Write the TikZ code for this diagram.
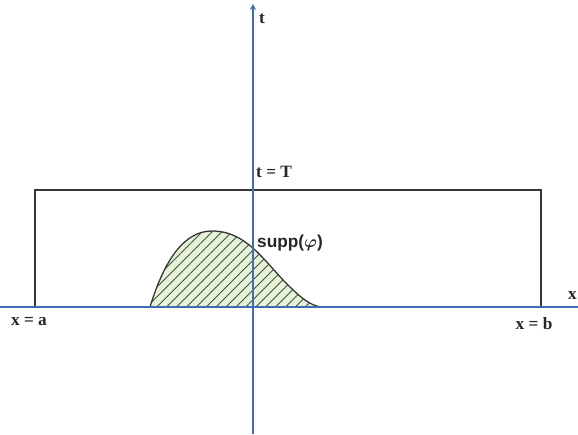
\documentclass[tikz,border=0pt]{standalone}
\usepackage{amsmath,amssymb}
\usepackage{xcolor}
\usepackage{fontspec}
\setmainfont{Liberation Serif}
\setsansfont{Liberation Sans}
\usepackage{tikz}
\usetikzlibrary{arrows.meta,patterns.meta}
\definecolor{axisblue}{HTML}{3F6FB0}
\definecolor{hatch}{HTML}{3A5A2C}
\definecolor{hatchbg}{HTML}{E8F1DC}
\definecolor{frame}{HTML}{3A3636}

\begin{document}
\begin{tikzpicture}[x=1pt,y=-1pt,
  axis/.style={draw=axisblue,line width=1.1pt},
  frm/.style={draw=frame,line width=1.4pt},
  lbl/.style={font=\LARGE\bfseries,inner sep=1pt,text=black!85}
]
\useasboundingbox (0,0) rectangle (578,434);
% axes
\coordinate (o) at (253,307);
\coordinate (xl) at (0,307);
\coordinate (xr) at (578,307);
\coordinate (tb) at (253,434);
\coordinate (tt) at (253,4);
% support of phi
\fill[hatchbg] (150,307) .. controls (165,258) and (185,231) .. (212,231)
  .. controls (245,231) and (262,258) .. (285,282)
  .. controls (300,297) and (310,306) .. (322,307) -- cycle;
\fill[pattern={Lines[angle=45,distance=7pt,line width=0.9pt]},pattern color=hatch]
  (150,307) .. controls (165,258) and (185,231) .. (212,231)
  .. controls (245,231) and (262,258) .. (285,282)
  .. controls (300,297) and (310,306) .. (322,307) -- cycle;
\draw[frame,line width=1.3pt] (150,307) .. controls (165,258) and (185,231) .. (212,231)
  .. controls (245,231) and (262,258) .. (285,282)
  .. controls (300,297) and (310,306) .. (322,307);
% box
\coordinate (a) at (35,307);
\coordinate (b) at (541,307);
\draw[frm] (a) |- (541,190) -- (b);
\draw[axis] (xl) -- (xr);
\draw[axis,-{Stealth[length=6pt,width=6pt]}] (tb) -- (tt);
% labels
\node[lbl,anchor=west] (tlab) at (258,19) {t};
\node[lbl,anchor=east] (xlab) at (578,296) {x};
\node[lbl,anchor=west] (tT) at (255,172) {t = T};
\node[lbl] (xa) at (29,322) {x = a};
\node[lbl] (xb) at (534,324) {x = b};
\node[lbl,anchor=west,font=\LARGE\sffamily\bfseries] (supp) at (256,243) {supp($\boldsymbol{\varphi}$)};
\end{tikzpicture}
\end{document}
